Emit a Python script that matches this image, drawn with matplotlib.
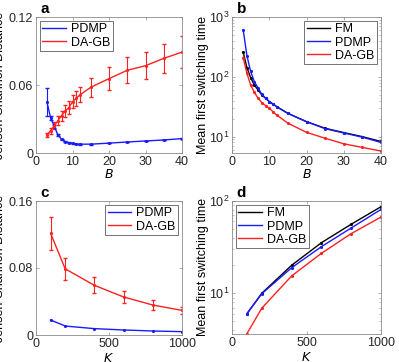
import numpy as np
import matplotlib
matplotlib.use("Agg")
import matplotlib.pyplot as plt
from matplotlib.lines import Line2D
from matplotlib.ticker import LogLocator, NullFormatter

plt.rcParams['font.family'] = ['Liberation Sans', 'DejaVu Sans']
plt.rcParams['font.size'] = 9

# --- data ---
B = [3, 4, 5, 6, 7, 8, 9, 10, 11, 12, 15, 20, 25, 30, 35, 40]
js_pdmp_B = [0.045, 0.031, 0.0235, 0.016, 0.012, 0.010, 0.009, 0.0085, 0.008, 0.0078,
             0.0078, 0.0087, 0.0097, 0.0106, 0.0115, 0.0127]
js_pdmp_B_err = [0.012, 0.002, 0.001, 0.0008, 0.0005, 0.0004, 0.0003, 0.0003, 0.0003, 0.0003,
                 0.0003, 0.0003, 0.0003, 0.0003, 0.0003, 0.0003]
js_dagb_B = [0.016, 0.0197, 0.024, 0.0285, 0.033, 0.037, 0.040, 0.0453, 0.0482, 0.0512,
             0.058, 0.0656, 0.073, 0.077, 0.0835, 0.089]
js_dagb_B_err = [0.002, 0.0025, 0.003, 0.004, 0.0045, 0.005, 0.0058, 0.006, 0.0068, 0.0066,
                 0.0085, 0.010, 0.0115, 0.012, 0.013, 0.014]

mfst_fm_B = [259, 143, 97, 73, 60, 50, 44, 38.6, 35, 31.7, 24.5, 17.8, 13.8, 11.7, 10.0, 8.3]
mfst_pdmp_B = [612, 227, 123, 83, 65, 51, 44, 38.6, 35, 31.7, 24.5, 17.8, 13.6, 11.5, 9.8, 8.0]
mfst_dagb_B = [210, 115, 73, 55, 44, 37, 33, 30, 26, 23, 16.8, 11.8, 9.4, 7.6, 6.6, 5.75]

K = [100, 200, 400, 600, 800, 1000]
js_pdmp_K = [0.0179, 0.0107, 0.0076, 0.006, 0.0048, 0.004]
js_dagb_K = [0.1214, 0.079, 0.0593, 0.0454, 0.0358, 0.0294]
js_dagb_K_err = [0.020, 0.013, 0.0095, 0.0066, 0.0058, 0.0046]

mfst_fm_K = [6.0, 10.0, 20.1, 35.3, 56, 86.7]
mfst_pdmp_K = [6.0, 9.9, 18.9, 32, 51, 81]
mfst_dagb_K = [3.65, 6.9, 15.4, 27.1, 44.3, 67]

W, H = 399, 362
fig = plt.figure(figsize=(W / 100, H / 100), dpi=100)

blue = '#1a1aff'
red = '#ff2020'
lw = 1.0
ms = 2.5


def make_ax(left, top, right, bottom):
    ax = fig.add_axes([left / W, 1 - bottom / H, (right - left) / W, (bottom - top) / H])
    for s in ax.spines.values():
        s.set_color('0.55')
        s.set_linewidth(0.6)
    ax.tick_params(direction='in', top=True, right=True, length=2.5, width=0.5,
                   colors='0.55', labelcolor='0.15', labelsize=9, pad=2)
    ax.tick_params(which='minor', direction='in', top=True, right=True, length=1.5,
                   width=0.4, colors='0.55')
    return ax


def panel_label(ax, s):
    ax.text(0.03, 1.01, s, transform=ax.transAxes, fontsize=11, fontweight='bold',
            ha='left', va='bottom')


def add_legend(ax, names, colors, loc):
    handles = [Line2D([], [], color=c, lw=lw) for c in colors]
    leg = ax.legend(handles, names, loc=loc, frameon=True, fancybox=False, edgecolor='0.2',
                    handlelength=1.9, borderpad=0.2, labelspacing=0.1, handletextpad=0.4,
                    borderaxespad=0.3, fontsize=9)
    leg.get_frame().set_linewidth(0.6)


def log_y(ax):
    ax.set_yscale('log')
    ax.yaxis.set_major_locator(LogLocator(base=10, numticks=10))
    ax.yaxis.set_minor_locator(LogLocator(base=10, subs=np.arange(2, 10), numticks=10))
    ax.yaxis.set_minor_formatter(NullFormatter())


# Panel a
ax = make_ax(36, 17, 182, 153)
ax.errorbar(B, js_pdmp_B, yerr=js_pdmp_B_err, color=blue, lw=lw, marker='.', ms=ms,
            capsize=1.5, elinewidth=0.8)
ax.errorbar(B, js_dagb_B, yerr=js_dagb_B_err, color=red, lw=lw, marker='.', ms=ms,
            capsize=1.5, elinewidth=0.8)
ax.set_xlim(0, 40)
ax.set_ylim(0, 0.12)
ax.set_xticks([0, 10, 20, 30, 40])
ax.set_yticks([0, 0.06, 0.12])
ax.set_yticklabels(['0', '0.06', '0.12'])
ax.set_xlabel('$B$')
ax.set_ylabel('Jensen-Shannon Distance')
ax.xaxis.set_label_coords(0.5, -0.11)
ax.yaxis.set_label_coords(-0.205, 0.5)
add_legend(ax, ['PDMP', 'DA-GB'], [blue, red], 'upper left')
panel_label(ax, 'a')

# Panel b
ax = make_ax(232, 17, 381, 153)
ax.plot(B, mfst_fm_B, color='k', lw=lw, marker='.', ms=ms)
ax.plot(B, mfst_pdmp_B, color=blue, lw=lw, marker='.', ms=ms)
ax.plot(B, mfst_dagb_B, color=red, lw=lw, marker='.', ms=ms)
log_y(ax)
ax.set_xlim(0, 40)
ax.set_ylim(5.33, 1000)
ax.set_xticks([0, 10, 20, 30, 40])
ax.set_xlabel('$B$')
ax.set_ylabel('Mean first switching time')
ax.xaxis.set_label_coords(0.5, -0.11)
ax.yaxis.set_label_coords(-0.155, 0.5)
add_legend(ax, ['FM', 'PDMP', 'DA-GB'], ['k', blue, red], 'upper right')
panel_label(ax, 'b')

# Panel c
ax = make_ax(36, 201, 182, 335)
ax.plot(K, js_pdmp_K, color=blue, lw=lw, marker='.', ms=ms)
ax.errorbar(K, js_dagb_K, yerr=js_dagb_K_err, color=red, lw=lw, marker='.', ms=ms,
            capsize=1.5, elinewidth=0.8)
ax.set_xlim(0, 1000)
ax.set_ylim(0, 0.16)
ax.set_xticks([0, 500, 1000])
ax.set_yticks([0, 0.08, 0.16])
ax.set_yticklabels(['0', '0.08', '0.16'])
ax.set_xlabel('$K$')
ax.set_ylabel('Jensen-Shannon Distance')
ax.xaxis.set_label_coords(0.5, -0.13)
ax.yaxis.set_label_coords(-0.205, 0.5)
add_legend(ax, ['PDMP', 'DA-GB'], [blue, red], 'upper right')
panel_label(ax, 'c')

# Panel d
ax = make_ax(232, 201, 381, 334)
ax.plot(K, mfst_fm_K, color='k', lw=lw, marker='.', ms=ms)
ax.plot(K, mfst_pdmp_K, color=blue, lw=lw, marker='.', ms=ms)
ax.plot(K, mfst_dagb_K, color=red, lw=lw, marker='.', ms=ms)
log_y(ax)
ax.set_xlim(0, 1000)
ax.set_ylim(3.62, 100)
ax.set_xticks([0, 500, 1000])
ax.set_xlabel('$K$')
ax.set_ylabel('Mean first switching time')
ax.xaxis.set_label_coords(0.5, -0.13)
ax.yaxis.set_label_coords(-0.155, 0.5)
add_legend(ax, ['FM', 'PDMP', 'DA-GB'], ['k', blue, red], 'upper left')
panel_label(ax, 'd')

fig.savefig('out.png', dpi=100)
